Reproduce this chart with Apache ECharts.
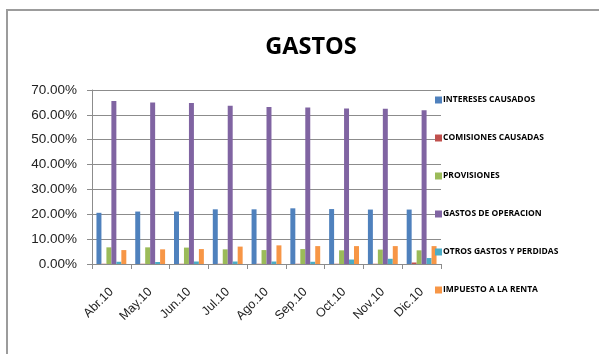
<!DOCTYPE html>
<html>
<head>
<meta charset="utf-8">
<script src="https://cdn.jsdelivr.net/npm/echarts@6/dist/echarts.min.js"></script>
<style>
  html, body { margin: 0; padding: 0; background: #ffffff; }
  #chart { width: 599px; height: 354px; }
</style>
</head>
<body>
<div id="chart"></div>
<script>
// Monthly expense shares (percent of total)
const months = ['Abr.10', 'May.10', 'Jun.10', 'Jul.10', 'Ago.10', 'Sep.10', 'Oct.10', 'Nov.10', 'Dic.10'];
const seriesNames = ['INTERESES CAUSADOS', 'COMISIONES CAUSADAS', 'PROVISIONES', 'GASTOS DE OPERACION', 'OTROS GASTOS Y PERDIDAS', 'IMPUESTO A LA RENTA'];
const intereses   = [20.6, 21.1, 21.1, 22.0, 22.0, 22.4, 22.1, 21.9, 21.9];
const comisiones  = [0.1, 0.1, 0.1, 0.1, 0.1, 0.1, 0.1, 0.1, 0.6];
const provisiones = [6.7, 6.7, 6.6, 5.9, 5.6, 6.0, 5.5, 5.8, 5.5];
const operacion   = [65.6, 65.0, 64.8, 63.7, 63.2, 63.0, 62.6, 62.5, 61.9];
const otros       = [0.9, 0.8, 1.0, 1.0, 1.0, 0.9, 1.8, 2.1, 2.4];
const impuesto    = [5.6, 5.9, 6.0, 7.0, 7.5, 7.2, 7.2, 7.2, 7.2];
const yTicks = [0, 10, 20, 30, 40, 50, 60, 70];

const colors = ['#4F81BD', '#C0504D', '#9BBB59', '#8064A2', '#4BACC6', '#F79646'];
const values = [intereses, comisiones, provisiones, operacion, otros, impuesto];

const chart = echarts.init(document.getElementById('chart'));
chart.setOption({
  animation: false,
  color: colors,
  title: {
    text: 'GASTOS',
    left: 306,
    textAlign: 'center',
    top: 30,
    textStyle: { fontFamily: 'Open Sans, sans-serif', fontWeight: 'bold', fontSize: 23.5, color: '#000' }
  },
  graphic: [{
    type: 'rect',
    shape: { x: 7, y: 10, width: 800, height: 500 },
    style: { fill: 'none', stroke: '#9c9c9c', lineWidth: 2 },
    silent: true
  }],
  legend: {
    orient: 'vertical',
    left: 430,
    top: 90,
    itemWidth: 7,
    itemHeight: 7,
    itemGap: 28,
    icon: 'rect',
    data: seriesNames,
    textStyle: { fontFamily: 'Liberation Sans Narrow, Open Sans, sans-serif', fontWeight: 'bold', fontSize: 8.5, color: '#000', padding: [0, 0, 0, -4], lineHeight: 10 }
  },
  grid: { left: 92, right: 158, top: 90, bottom: 90, containLabel: false },
  xAxis: {
    type: 'category',
    data: months,
    axisLine: { lineStyle: { color: '#8c8c8c', width: 1 } },
    axisTick: { show: true, alignWithLabel: false, length: 5, lineStyle: { color: '#8c8c8c' } },
    axisLabel: { rotate: 45, verticalAlign: 'middle', padding: [8, 0, 0, 0], fontFamily: 'Liberation Sans, Open Sans, sans-serif', fontSize: 12.5, color: '#222', margin: 26 }
  },
  yAxis: {
    type: 'value',
    min: 0,
    max: yTicks[yTicks.length - 1],
    interval: 10,
    axisLine: { show: true, lineStyle: { color: '#8c8c8c', width: 1 } },
    axisTick: { show: true, length: 5, lineStyle: { color: '#8c8c8c' } },
    splitLine: { lineStyle: { color: '#8c8c8c', width: 1 } },
    axisLabel: {
      fontFamily: 'Liberation Sans, Open Sans, sans-serif', fontSize: 13.5, color: '#222', margin: 15,
      formatter: v => v.toFixed(2) + '%'
    }
  },
  series: seriesNames.map((name, i) => ({
    name: name,
    type: 'bar',
    data: values[i],
    barGap: '0%',
    barCategoryGap: '23%',
    itemStyle: { color: colors[i] }
  }))
});
</script>
</body>
</html>
